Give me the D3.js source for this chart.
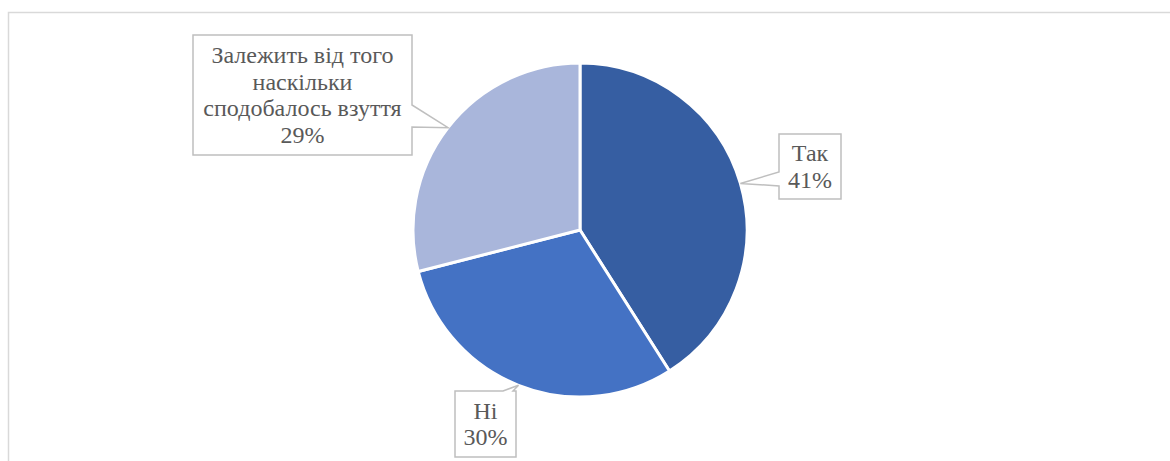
<!DOCTYPE html>
<html>
<head>
<meta charset="utf-8">
<script src="https://cdn.jsdelivr.net/npm/d3@7/dist/d3.min.js"></script>
<style>
  html, body { margin: 0; padding: 0; background: #fff; }
  svg { display: block; }
</style>
</head>
<body>
<svg id="chart" width="1170" height="461" font-family="Liberation Serif, Times New Roman, serif"></svg>
<script>
// Survey answers and their shares (%)
const categories = ["Так", "Ні", "Залежить від того наскільки сподобалось взуття"];
const labelLines = [["Так"], ["Ні"], ["Залежить від того", "наскільки", "сподобалось взуття"]];
const values = [41, 30, 29];
const colors = ["#365ea2", "#4472c4", "#a9b6db"];

// Callout boxes: x, y, w, h, side the wedge leaves from, wedge base [from, to]
const callouts = [
  { x: 779, y: 134, w: 62, h: 65, side: "left",  base: [172, 186] },
  { x: 455, y: 391, w: 61, h: 66, side: "top",   base: [503, 513] },
  { x: 193, y: 35,  w: 219, h: 120, side: "right", base: [105, 127] }
];

const svg = d3.select("#chart");
const W = 1170, H = 461;
const cx = 580, cy = 230, R = 167;

// chart area frame (only top and left edges fall inside the view)
svg.append("path")
  .attr("d", `M8.5,${H} V12.5 H${W}`)
  .attr("fill", "none")
  .attr("stroke", "#d9d9d9")
  .attr("stroke-width", 1.5);

const pie = d3.pie().sort(null).value(d => d)(values);
const arc = d3.arc().innerRadius(0).outerRadius(R);

const g = svg.append("g").attr("transform", `translate(${cx},${cy})`);
g.selectAll("path.slice")
  .data(pie)
  .join("path")
  .attr("class", "slice")
  .attr("d", arc)
  .attr("fill", (d, i) => colors[i])
  .attr("stroke", "#fff")
  .attr("stroke-width", 3)
  .attr("stroke-linejoin", "round");

// callout labels with a wedge pointing at the slice's outer edge
const lineH = 26.7;
pie.forEach((d, i) => {
  const c = callouts[i];
  const mid = (d.startAngle + d.endAngle) / 2;
  const tx = cx + R * Math.sin(mid);
  const ty = cy - R * Math.cos(mid);
  const x0 = c.x, y0 = c.y, x1 = c.x + c.w, y1 = c.y + c.h;
  let p;
  if (c.side === "left") {
    p = `M${x0},${y0} H${x1} V${y1} H${x0} V${c.base[1]} L${tx},${ty} L${x0},${c.base[0]} Z`;
  } else if (c.side === "right") {
    p = `M${x0},${y0} H${x1} V${c.base[0]} L${tx},${ty} L${x1},${c.base[1]} V${y1} H${x0} Z`;
  } else {
    p = `M${x0},${y0} H${c.base[0]} L${tx},${ty} L${c.base[1]},${y0} H${x1} V${y1} H${x0} Z`;
  }
  svg.append("path")
    .attr("d", p)
    .attr("fill", "#fff")
    .attr("stroke", "#bfbfbf")
    .attr("stroke-width", 1.5)
    .attr("stroke-linejoin", "miter");

  const lines = labelLines[i].concat([values[i] + "%"]);
  const midY = y0 + c.h / 2;
  const firstBase = midY - (lines.length - 1) * lineH / 2 + 8;
  lines.forEach((ln, k) => {
    svg.append("text")
      .attr("class", "lbl")
      .attr("x", x0 + c.w / 2)
      .attr("y", firstBase + k * lineH)
      .attr("text-anchor", "middle")
      .attr("fill", "#595959")
      .attr("font-size", 24)
      .style("font-family", '"Liberation Serif", serif')
      .text(ln);
  });
});
</script>
</body>
</html>
